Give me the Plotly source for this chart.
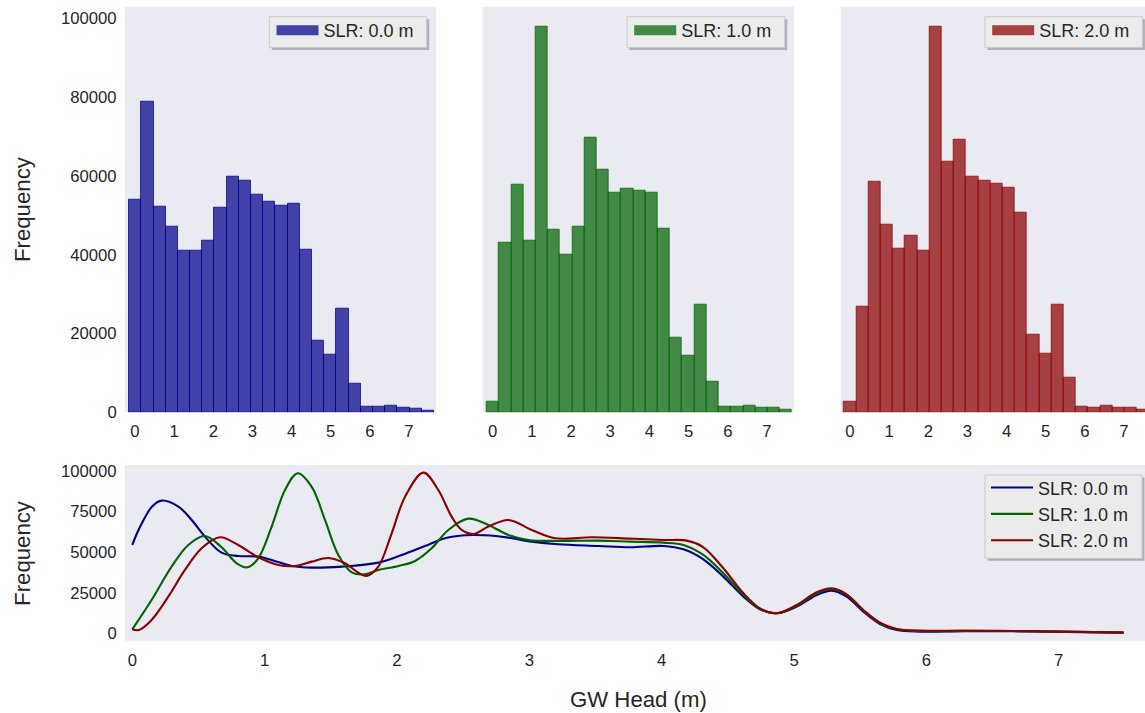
import plotly.graph_objects as go

W, H = 1145, 713

# ---------------- data ----------------
slr_labels = ["SLR: 0.0 m", "SLR: 1.0 m", "SLR: 2.0 m"]

bin_edges = [-0.150, 0.162, 0.473, 0.785, 1.096, 1.408, 1.720, 2.031, 2.343, 2.654,
             2.966, 3.278, 3.589, 3.901, 4.212, 4.524, 4.836, 5.147, 5.459, 5.770,
             6.082, 6.394, 6.705, 7.017, 7.328, 7.640]

counts_slr0 = [53890, 78760, 52110, 47040, 40950, 40950, 43490, 51860, 59730, 58710,
               55160, 53380, 52370, 52880, 41200, 18100, 14550, 26230, 7190, 1350,
               1350, 1600, 1100, 850, 340]
counts_slr1 = [2620, 42980, 57700, 43490, 97800, 46280, 39930, 47040, 69630, 61510,
               55670, 56680, 56180, 55670, 46530, 18870, 14300, 27240, 7870, 1350,
               1350, 1600, 1100, 1100, 590]
counts_slr2 = [2620, 26730, 58460, 47550, 41450, 44750, 40950, 97800, 63540, 69120,
               59730, 58710, 57950, 56940, 50590, 19630, 14810, 27240, 8710, 1350,
               1100, 1600, 1100, 1100, 590]

kde_x_slr0 = [0, 0.05, 0.15, 0.222, 0.348, 0.449, 0.549, 0.675, 0.80, 0.952, 1.053, 1.204,
              1.355, 1.582, 1.859, 2.036, 2.212, 2.363, 2.514, 2.665, 2.842, 3.018,
              3.219, 3.522, 3.761, 4.013, 4.164, 4.315, 4.466, 4.618, 4.743, 4.869,
              5.021, 5.172, 5.285, 5.398, 5.524, 5.65, 5.776, 5.953, 6.28, 6.658,
              7.036, 7.49]
kde_y_slr0 = [54330, 64000, 78000, 81590, 77900, 69700, 59450, 49610, 47560, 47150, 45100, 41410,
              40390, 41000, 43460, 48180, 53710, 58430, 60270, 60270, 58840, 56380,
              54740, 53710, 52890, 53710, 51660, 45510, 34850, 22550, 14760, 12300,
              16400, 23580, 26240, 22550, 13330, 5740, 2050, 1030, 1230, 1230,
              820, 410]

kde_x_slr1 = [0, 0.146, 0.297, 0.423, 0.549, 0.675, 0.789, 0.872, 0.952, 1.053, 1.154,
              1.25, 1.355, 1.456, 1.557, 1.658, 1.759, 1.859, 2.011, 2.137, 2.262,
              2.388, 2.539, 2.69, 2.842, 2.993, 3.219, 3.522, 3.761, 4.013, 4.164,
              4.315, 4.466, 4.618, 4.743, 4.869, 5.021, 5.172, 5.285, 5.398, 5.524,
              5.65, 5.776, 5.953, 6.28, 6.658, 7.036, 7.49]
kde_y_slr1 = [2460, 20500, 41000, 54330, 59860, 52890, 43050, 40590, 46130, 65600, 88150,
              98400, 90200, 69700, 48180, 37520, 36290, 38950, 41410, 44490, 52280,
              63550, 70520, 66630, 60480, 57400, 56790, 56990, 56380, 55760, 54330,
              48180, 36900, 23580, 14970, 12300, 17020, 24600, 27270, 23580, 13940,
              6150, 2460, 1430, 1430, 1430, 1030, 510]

kde_x_slr2 = [0, 0.05, 0.146, 0.272, 0.398, 0.524, 0.662, 0.80, 0.952, 1.103, 1.229,
              1.355, 1.481, 1.607, 1.708, 1.771, 1.859, 1.96, 2.061, 2.2, 2.312,
              2.413, 2.489, 2.577, 2.69, 2.842, 3.018, 3.195, 3.472, 3.761, 4.013,
              4.19, 4.315, 4.466, 4.618, 4.743, 4.869, 5.021, 5.172, 5.285, 5.398,
              5.524, 5.65, 5.776, 5.953, 6.28, 6.658, 7.036, 7.49]
kde_y_slr2 = [2460, 2050, 8200, 22550, 38950, 52280, 59040, 54330, 46740, 42030, 41410,
              44080, 46330, 43050, 37310, 35260, 41000, 61500, 84050, 98810, 88150,
              71750, 63550, 61090, 65600, 69700, 63550, 58430, 59040, 58220, 57400,
              56990, 52890, 39980, 24600, 15380, 12300, 17430, 25220, 27680, 23990,
              14350, 6560, 2670, 1640, 1640, 1430, 1030, 410]

x_tick_vals = [0, 1, 2, 3, 4, 5, 6, 7]
hist_y_ticks = [0, 20000, 40000, 60000, 80000, 100000]
kde_y_ticks = [0, 25000, 50000, 75000, 100000]

# ---------------- style ----------------
FONT = "Liberation Sans, Arial, sans-serif"
TXT = "#262626"
BG = "#EAEAF2"
fills = ["rgba(0,0,139,0.72)", "rgba(0,100,0,0.72)", "rgba(139,0,0,0.72)"]
lines = ["#00008b", "#006400", "#8b0000"]


def px(x):
    return x / W


def py(y):
    return 1 - y / H


centers = [(a + b) / 2 for a, b in zip(bin_edges[:-1], bin_edges[1:])]
widths = [b - a for a, b in zip(bin_edges[:-1], bin_edges[1:])]

fig = go.Figure()

counts_all = [counts_slr0, counts_slr1, counts_slr2]
legend_names = ["legend", "legend2", "legend3"]
for i, counts in enumerate(counts_all):
    ax = "" if i == 0 else str(i + 1)
    fig.add_trace(go.Bar(
        x=centers, y=counts, width=widths,
        marker=dict(color=fills[i], line=dict(color=fills[i], width=1)),
        showlegend=False, xaxis="x" + ax, yaxis="y" + ax, hoverinfo="skip"))
    # legend entry (patch)
    fig.add_trace(go.Scatter(
        x=[None], y=[None], mode="lines", name=slr_labels[i],
        line=dict(color=fills[i], width=13),
        legend=legend_names[i], xaxis="x" + ax, yaxis="y" + ax))

kde_x = [kde_x_slr0, kde_x_slr1, kde_x_slr2]
kde_y = [kde_y_slr0, kde_y_slr1, kde_y_slr2]
for i in range(3):
    fig.add_trace(go.Scatter(
        x=kde_x[i], y=kde_y[i], mode="lines", name=slr_labels[i],
        line=dict(color=lines[i], width=2.1, shape="spline", smoothing=1.0),
        legend="legend4", xaxis="x4", yaxis="y4"))

tickfont = dict(family=FONT, size=16.7, color=TXT)
common_x = dict(showgrid=False, zeroline=False, showline=False, tickfont=tickfont,
                tickvals=x_tick_vals, ticks="outside", ticklen=4,
                tickcolor="rgba(0,0,0,0)", fixedrange=True, automargin=False)
common_y = dict(showgrid=False, zeroline=False, showline=False, tickfont=tickfont,
                ticks="outside", ticklen=4, tickcolor="rgba(0,0,0,0)",
                tickformat="d", fixedrange=True, automargin=False)

top_dom = [py(412.3), py(6.7)]
bot_dom = [py(640.7), py(465.0)]

fig.update_layout(
    width=W, height=H, autosize=False,
    margin=dict(l=0, r=0, t=0, b=0, pad=0, autoexpand=False),
    paper_bgcolor="white", plot_bgcolor=BG,
    font=dict(family=FONT, color=TXT),
    bargap=0,
    xaxis=dict(domain=[px(125), px(436)], range=[-0.255, 7.69], anchor="y", **common_x),
    yaxis=dict(domain=top_dom, range=[0, 102950], anchor="x", tickvals=hist_y_ticks, **common_y),
    xaxis2=dict(domain=[px(482.7), px(794)], range=[-0.255, 7.69], anchor="y2", **common_x),
    yaxis2=dict(domain=top_dom, range=[0, 102950], anchor="x2", tickvals=hist_y_ticks,
                showticklabels=False, **common_y),
    xaxis3=dict(domain=[px(840.7), 1.0], range=[-0.238, 7.537], anchor="y3", **common_x),
    yaxis3=dict(domain=top_dom, range=[0, 102950], anchor="x3", tickvals=hist_y_ticks,
                showticklabels=False, **common_y),
    xaxis4=dict(domain=[px(125), 1.0], range=[-0.055, 7.652], anchor="y4", **common_x),
    yaxis4=dict(domain=bot_dom, range=[-4550, 103500], anchor="x4", tickvals=kde_y_ticks, **common_y),
)

leg_font = dict(family=FONT, size=18, color=TXT)
leg_common = dict(bgcolor="rgba(0,0,0,0)", borderwidth=0, font=leg_font,
                  xanchor="left", yanchor="middle", itemwidth=42,
                  itemclick=False, itemdoubleclick=False)
fig.update_layout(
    legend=dict(x=px(271.5), y=py(30.5), **leg_common),
    legend2=dict(x=px(629.2), y=py(30.5), **leg_common),
    legend3=dict(x=px(987.2), y=py(30.5), **leg_common),
    legend4=dict(x=px(986.0), y=py(514.3), **leg_common),
)

# legend frames (box + shadow)
boxes = [(269.3, 16.7, 426.7, 47.6), (627.0, 16.7, 784.7, 47.6),
         (985.0, 16.7, 1142.4, 47.6), (985.0, 475.0, 1142.0, 558.3)]
shapes = []
for (x0, y0, x1, y1) in boxes:
    shapes.append(dict(type="rect", xref="paper", yref="paper",
                       x0=px(x0 + 2.5), x1=px(x1 + 2.5), y0=py(y0 + 2.5), y1=py(y1 + 2.5),
                       fillcolor="rgba(0,0,0,0.25)", line=dict(width=0), layer="above"))
    shapes.append(dict(type="rect", xref="paper", yref="paper",
                       x0=px(x0), x1=px(x1), y0=py(y0), y1=py(y1),
                       fillcolor="#EBEBEB", line=dict(color="#CCCCCC", width=1), layer="above"))
fig.update_layout(shapes=shapes)

lab_font = dict(family=FONT, size=22.2, color=TXT)
fig.update_layout(annotations=[
    dict(text="Frequency", x=px(22.5), y=py(209.5), xref="paper", yref="paper",
         textangle=-90, showarrow=False, xanchor="center", yanchor="middle", font=lab_font),
    dict(text="Frequency", x=px(23.0), y=py(552.9), xref="paper", yref="paper",
         textangle=-90, showarrow=False, xanchor="center", yanchor="middle", font=lab_font),
    dict(text="GW Head (m)", x=px(638.8), y=py(699), xref="paper", yref="paper",
         showarrow=False, xanchor="center", yanchor="middle", font=lab_font),
])

fig.write_html("out.html",
               config={"displayModeBar": False, "responsive": False},
               default_width="1145px", default_height="713px",
               post_script="document.body.style.margin='0px';document.body.style.overflow='hidden';")
